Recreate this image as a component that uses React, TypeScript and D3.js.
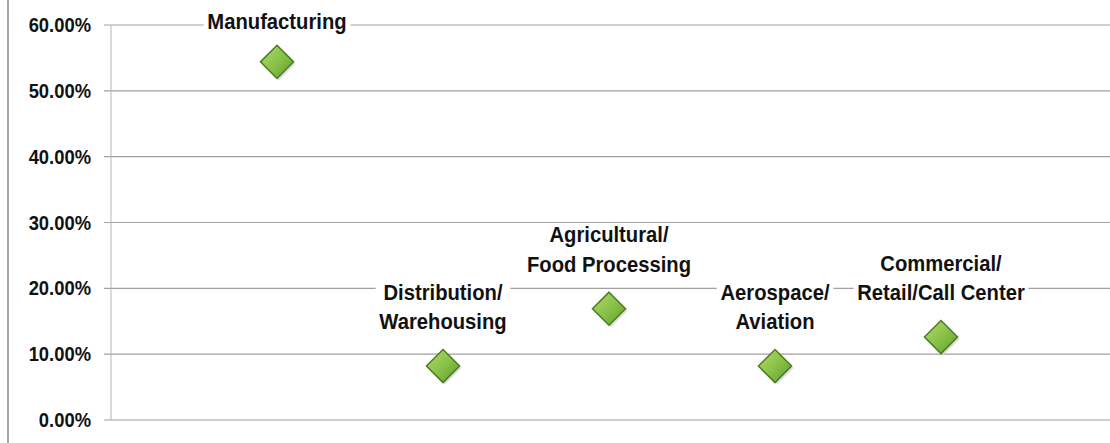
import React, { useEffect, useRef } from "react";
import * as d3 from "d3";

const categories: string[][] = [
  ["Manufacturing"],
  ["Distribution/", "Warehousing"],
  ["Agricultural/", "Food Processing"],
  ["Aerospace/", "Aviation"],
  ["Commercial/", "Retail/Call Center"],
];
const values = [0.544, 0.082, 0.169, 0.082, 0.126];
const yTicks = [0, 0.1, 0.2, 0.3, 0.4, 0.5, 0.6];

const FONT = "'Liberation Sans Narrow', 'Arial Narrow', 'Liberation Sans', Arial, sans-serif";
const SQUEEZE = 0.92; // narrow look of the scanned labels

export default function App() {
  const ref = useRef<SVGSVGElement | null>(null);

  useEffect(() => {
    const width = 1110;
    const height = 443;
    const svg = d3.select(ref.current);
    svg.selectAll("*").remove();
    svg.attr("viewBox", `0 0 ${width} ${height}`);

    const x = d3.scaleLinear().domain([0, 6]).range([111, 1107]);
    const y = d3.scaleLinear().domain([0, 0.6]).range([420, 25]);

    const defs = svg.append("defs");
    const grad = defs.append("linearGradient").attr("id", "dg")
      .attr("x1", "0").attr("y1", "0").attr("x2", "1").attr("y2", "1");
    grad.append("stop").attr("offset", "0%").attr("stop-color", "#b4dc6c");
    grad.append("stop").attr("offset", "55%").attr("stop-color", "#86bf45");
    grad.append("stop").attr("offset", "100%").attr("stop-color", "#5f9b2d");

    // left page border
    svg.append("line").attr("x1", 8).attr("x2", 8).attr("y1", 0).attr("y2", height)
      .attr("stroke", "#8a8a8a").attr("stroke-width", 1.5);

    // gridlines + ticks
    svg.append("g").selectAll("line").data(yTicks).enter().append("line")
      .attr("x1", 104).attr("x2", width)
      .attr("y1", d => y(d)).attr("y2", d => y(d))
      .attr("stroke", "#a0a0a0").attr("stroke-width", 1.2);

    // plot left edge
    svg.append("line").attr("x1", 111).attr("x2", 111).attr("y1", y(0.6)).attr("y2", y(0))
      .attr("stroke", "#b5b5b5").attr("stroke-width", 1);

    svg.append("g").selectAll("text").data(yTicks).enter().append("text")
      .attr("transform", d => `translate(91,${y(d) + 7}) scale(${SQUEEZE},1)`)
      .attr("text-anchor", "end")
      .attr("font-family", FONT).attr("font-weight", "bold").attr("font-size", 20)
      .attr("fill", "#111")
      .text(d => d3.format(".2%")(d));

    // markers
    const sym = d3.symbol().type(d3.symbolDiamond2).size(700);
    svg.append("g").selectAll("path").data(values).enter().append("path")
      .attr("transform", (d, i) => `translate(${x(i + 1) + 2},${y(d) + 2})`)
      .attr("d", sym as any)
      .attr("fill", "#c8c8c8").attr("opacity", 0.6);
    svg.append("g").selectAll("path").data(values).enter().append("path")
      .attr("transform", (d, i) => `translate(${x(i + 1)},${y(d)})`)
      .attr("d", sym as any)
      .attr("fill", "url(#dg)")
      .attr("stroke", "#4b7d22").attr("stroke-width", 1.5);

    // labels with white backing
    const lg = svg.append("g");
    categories.forEach((lines, i) => {
      const cx = x(i + 1);
      const baseY = y(values[i]) - (lines.length === 1 ? 33 : 37);
      const grp = lg.append("g").attr("transform", `translate(${cx},0) scale(${SQUEEZE},1)`);
      const bg = grp.append("rect").attr("fill", "white");
      const t = grp.append("text")
        .attr("text-anchor", "middle")
        .attr("font-family", FONT).attr("font-weight", "bold").attr("font-size", 22)
        .attr("fill", "#111");
      lines.forEach((ln, j) => {
        t.append("tspan").attr("x", 0)
          .attr("y", baseY - (lines.length - 1 - j) * 29.5)
          .text(ln);
      });
      const bb = (t.node() as SVGTextElement).getBBox();
      bg.attr("x", bb.x - 4).attr("y", bb.y + 2).attr("width", bb.width + 8).attr("height", bb.height - 4);
    });
  }, []);

  return (
    <div style={{ position: "absolute", left: 0, top: 0, width: 1110, height: 443, background: "white" }}>
      <svg ref={ref} width={1110} height={443} style={{ display: "block" }} />
    </div>
  );
}
